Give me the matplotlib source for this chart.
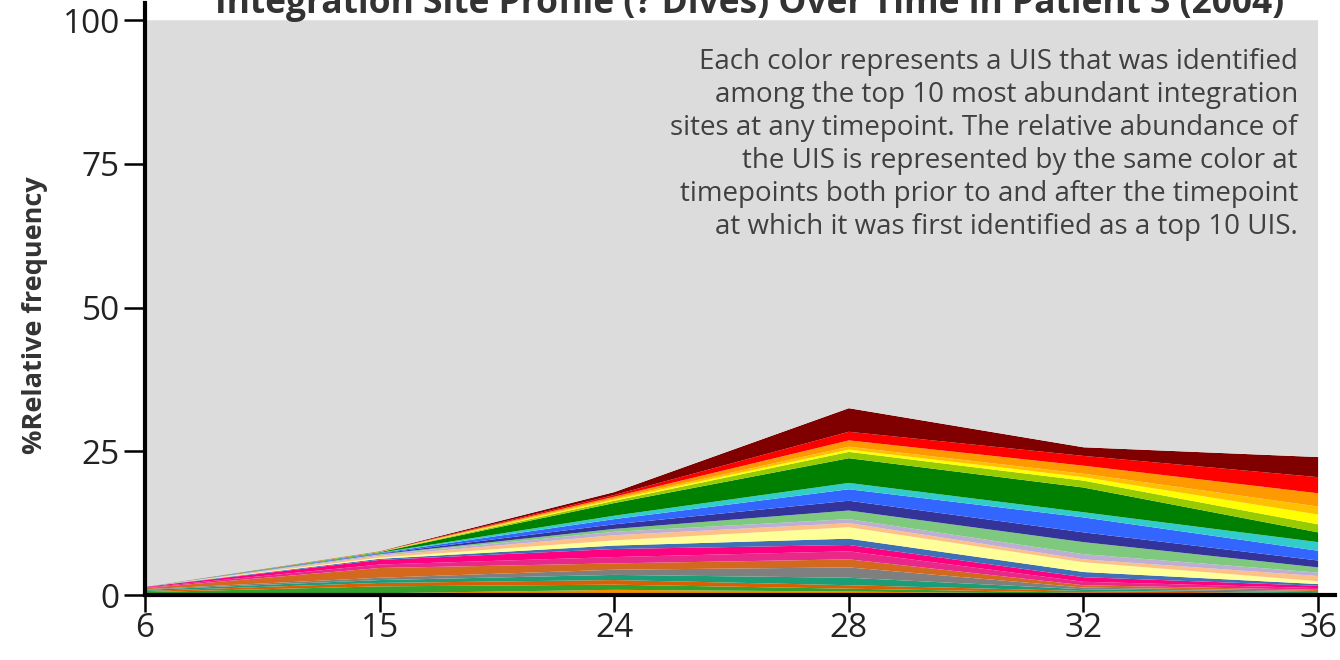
import numpy as np
import matplotlib
matplotlib.use("Agg")
import matplotlib.pyplot as plt

plt.rcParams['font.family'] = ['Open Sans', 'DejaVu Sans']

timepoints = ['6', '15', '24', '28', '32', '36']

# one row per UIS, bottom of the stack first; values are % relative frequency
uis_colors = [
    '#f28e00', '#33a02c', '#d95f02', '#1b9e77', '#7f7f7f', '#d2691e',
    '#e7298a', '#ff0080', '#3f6fb6', '#ffff99', '#fdc086', '#beaed4',
    '#7fc97f', '#333399', '#3366ff', '#33cccc', '#008000', '#99cc00',
    '#ffff00', '#ffc000', '#ff9900', '#ff0000', '#800000',
]
uis_values = [
    [0.10, 0.30, 0.9, 0.6, 0.2, 0.1],
    [0.40, 1.20, 0.9, 0.5, 0.2, 0.1],
    [0.20, 0.60, 0.8, 0.6, 0.3, 0.1],
    [0.20, 0.50, 0.9, 1.3, 0.3, 0.2],
    [0.10, 0.40, 0.9, 1.8, 0.3, 0.2],
    [0.20, 1.70, 1.1, 1.4, 0.4, 0.2],
    [0.10, 0.60, 1.1, 1.4, 0.6, 0.3],
    [0.10, 0.80, 1.4, 1.1, 0.8, 0.4],
    [0.05, 0.20, 0.6, 1.1, 0.9, 0.3],
    [0.00, 0.20, 0.9, 2.0, 1.7, 0.5],
    [0.00, 0.30, 0.9, 0.7, 0.5, 0.9],
    [0.00, 0.20, 0.6, 0.7, 0.9, 0.6],
    [0.00, 0.10, 0.5, 1.5, 2.1, 0.9],
    [0.00, 0.10, 0.8, 1.7, 1.7, 1.2],
    [0.00, 0.10, 0.9, 2.0, 2.6, 1.7],
    [0.00, 0.05, 0.6, 1.1, 0.9, 1.5],
    [0.00, 0.10, 2.2, 4.3, 4.3, 1.7],
    [0.00, 0.05, 0.4, 1.1, 1.2, 1.4],
    [0.00, 0.02, 0.2, 0.4, 0.6, 1.7],
    [0.00, 0.02, 0.2, 0.5, 0.6, 1.4],
    [0.00, 0.02, 0.3, 1.1, 1.4, 2.3],
    [0.00, 0.02, 0.3, 1.5, 1.7, 2.8],
    [0.00, 0.05, 0.5, 4.1, 1.5, 3.5],
]

note = ("Each color represents a UIS that was identified\n"
        "among the top 10 most abundant integration\n"
        "sites at any timepoint. The relative abundance of\n"
        "the UIS is represented by the same color at\n"
        "timepoints both prior to and after the timepoint\n"
        "at which it was first identified as a top 10 UIS.")

vals = np.array(uis_values)
rest = 100 - vals.sum(axis=0)
x = np.arange(len(timepoints))

fig = plt.figure(figsize=(13.4, 6.6), dpi=100)
ax = fig.add_axes([145 / 1340, 65 / 660, 1190 / 1340, 592 / 660])

ax.stackplot(x, np.vstack([vals, rest]), colors=uis_colors + ['#dcdcdc'],
             linewidth=0)

ax.set_xlim(0, 5.072)
ax.set_ylim(0, 103)
ax.set_xticks(x)
ax.set_xticklabels(timepoints)
ax.set_yticks([0, 25, 50, 75, 100])

for s in ['top', 'right']:
    ax.spines[s].set_visible(False)
for s in ['left', 'bottom']:
    ax.spines[s].set_linewidth(3)
ax.tick_params(axis='y', length=15, width=1.8, labelsize=24, pad=3,
               labelcolor='#222222', color='black')
ax.tick_params(axis='x', length=12, width=1.8, labelsize=24, pad=0,
               labelcolor='#222222', color='black')

fig.text(35 / 1340, 1 - 315 / 660, '%Relative frequency', rotation=90,
         ha='center', va='center', fontsize=19.5, fontweight='bold',
         color='#333333')

fig.text(1298 / 1340, 1 - 48 / 660, note, ha='right', va='top',
         multialignment='right', fontsize=20, color='#404040',
         linespacing=1.24)

fig.text(750 / 1340, 1 - 13 / 660,
         'Integration Site Profile (? Dives) Over Time in Patient 3 (2004)',
         ha='center', va='baseline', fontsize=25.5, fontweight='bold',
         color='#333333')

fig.savefig('out.png', dpi=100)
